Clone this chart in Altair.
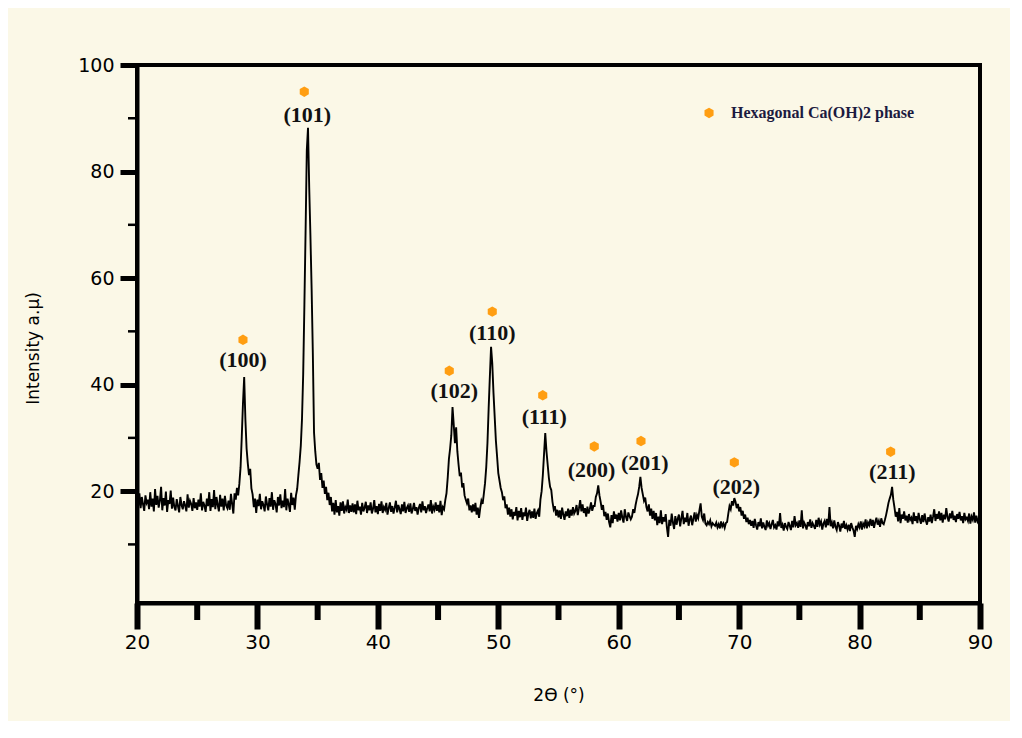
import altair as alt
import pandas as pd

# ---------------- data ----------------
x_start = 20.0
x_step = 0.1
intensity = [
    18.5, 17.2, 19.6, 16.8, 18.9, 17.5, 16.3, 19.2, 17.8, 18.4,  # 20
    16.6, 19.8, 17.1, 18.6, 16.2, 20.4, 17.4, 19.1, 16.9, 18.2,  # 21
    20.8, 16.4, 18.7, 17.3, 19.9, 16.1, 18.3, 17.6, 20.1, 16.7,  # 22
    18.8, 17.0, 16.4, 18.5, 17.2, 16.0, 18.9, 17.4, 16.6, 18.1,  # 23
    17.3, 16.2, 19.4, 16.9, 18.2, 17.6, 16.3, 18.7, 16.8, 17.9,  # 24
    16.5, 18.4, 17.1, 19.6, 16.4, 18.0, 17.3, 16.1, 18.6, 17.2,  # 25
    19.8, 16.3, 18.5, 17.0, 20.2, 16.6, 18.9, 17.4, 16.2, 19.3,  # 26
    17.1, 18.6, 16.4, 19.1, 17.3, 16.8, 18.2, 16.5, 19.5, 17.6,  # 27
    15.8, 19.6, 18.4, 20.6, 19.2, 21.4, 24.5, 30.2, 36.5, 41.4,  # 28
    33.5, 28.0, 25.2, 23.0, 24.2, 20.5, 19.4, 17.0, 18.6, 15.9,  # 29
    18.4, 17.2, 19.5, 16.6, 18.1, 17.4, 16.2, 19.0, 17.5, 16.4,  # 30
    18.7, 17.1, 19.8, 16.5, 18.3, 17.6, 16.0, 18.9, 17.3, 19.4,  # 31
    16.8, 18.2, 17.0, 20.4, 16.4, 18.6, 17.5, 16.1, 19.7, 17.4,  # 32
    18.8, 16.5, 19.2, 20.4, 23.0, 25.5, 28.5, 33.5, 42.0, 55.0,  # 33
    69.0, 84.0, 88.2, 77.0, 68.0, 58.0, 46.0, 31.0, 27.5, 25.0,  # 34
    24.2, 25.3, 22.1, 23.4, 20.6, 22.0, 19.5, 20.8, 18.3, 19.7,  # 35
    17.4, 18.9, 16.2, 17.8, 15.6, 18.3, 16.0, 17.2, 15.4, 17.9,  # 36
    16.3, 18.1, 15.8, 17.0, 16.5, 18.4, 15.9, 17.3, 16.1, 17.7,  # 37
    16.0, 17.5, 15.7, 18.2, 16.4, 17.1, 15.6, 17.8, 16.2, 16.9,  # 38
    18.0, 15.9, 17.3, 16.4, 17.9, 15.8, 16.7, 18.3, 16.0, 17.2,  # 39
    15.7, 17.6, 16.3, 18.1, 15.9, 17.0, 16.5, 17.8, 15.6, 16.8,  # 40
    17.9, 16.1, 17.2, 15.8, 16.9, 18.2, 16.0, 17.4, 16.6, 15.7,  # 41
    17.5, 16.2, 18.0, 15.9, 16.8, 17.3, 16.1, 17.7, 15.8, 16.6,  # 42
    17.8, 16.3, 17.0, 15.6, 16.9, 17.6, 16.0, 18.1, 16.4, 17.2,  # 43
    15.9, 16.8, 17.5, 16.2, 18.3, 15.8, 17.1, 16.5, 17.9, 16.3,  # 44
    17.4, 16.0, 18.2, 15.5, 17.0, 16.6, 18.3, 19.6, 22.5, 26.0,  # 45
    28.0, 30.5, 35.8, 32.5, 29.0, 32.0, 27.5, 25.0, 22.8, 23.5,  # 46
    20.7, 21.5, 19.2, 18.4, 17.7, 18.6, 16.4, 17.3, 16.0, 17.5,  # 47
    16.2, 17.8, 15.6, 16.9, 15.0, 16.8, 18.2, 17.6, 19.5, 21.5,  # 48
    24.5, 29.0, 35.5, 41.5, 47.1, 44.0, 38.5, 34.0, 29.5, 26.5,  # 49
    23.4, 22.0, 20.6, 19.8, 18.3, 19.0, 16.8, 17.5, 15.6, 16.9,  # 50
    15.2, 16.6, 14.7, 16.1, 15.4, 17.0, 14.5, 16.3, 15.1, 16.8,  # 51
    14.6, 16.0, 15.3, 16.9, 14.4, 15.8, 16.5, 14.9, 16.2, 15.0,  # 52
    16.7, 14.8, 15.9, 16.4, 15.2, 18.4, 20.0, 23.0, 27.0, 30.9,  # 53
    27.5, 25.0, 22.5, 20.8, 20.2, 18.0, 16.6, 17.2, 15.4, 16.5,  # 54
    15.1, 16.4, 14.8, 16.9, 15.6, 14.6, 16.2, 15.3, 16.7, 15.0,  # 55
    16.5, 15.4, 17.0, 15.8, 16.3, 17.4, 15.5, 16.8, 18.3, 16.2,  # 56
    17.5, 15.9, 16.8, 15.2, 17.1, 15.8, 16.6, 17.9, 16.3, 17.2,  # 57
    17.2, 18.9, 19.6, 21.1, 19.2, 18.0, 16.5, 17.4, 15.3, 16.1,  # 58
    14.6, 15.8, 14.2, 13.2, 15.5, 14.0, 16.2, 14.8, 15.6, 14.3,  # 59
    15.9, 14.5, 16.4, 15.0, 14.1, 16.6, 15.2, 14.4, 16.0, 15.3,  # 60
    14.7, 15.2, 16.6, 15.9, 17.4, 18.5, 19.4, 20.8, 22.7, 20.6,  # 61
    19.4, 18.2, 18.8, 17.0, 16.2, 17.5, 15.4, 16.7, 14.8, 16.3,  # 62
    14.5, 15.9, 13.6, 15.2, 14.0, 16.4, 13.8, 15.1, 14.3, 15.7,  # 63
    13.2, 11.4, 14.6, 13.5, 15.8, 14.1, 12.9, 15.3, 13.7, 14.8,  # 64
    15.6, 13.4, 14.9, 16.3, 13.8, 15.0, 14.2, 15.9, 13.5, 14.7,  # 65
    15.4, 13.6, 14.8, 16.0, 14.3, 15.5, 14.9, 16.4, 17.7, 15.2,  # 66
    14.6, 15.8, 13.9, 13.6, 14.2, 13.8, 14.5, 13.4, 14.0, 13.7,  # 67
    13.5, 14.1, 13.2, 13.8, 13.0, 14.3, 13.4, 13.9, 13.1, 14.0,  # 68
    14.2, 15.8, 17.2, 16.6, 18.1, 17.3, 18.7, 18.0, 16.8, 17.6,  # 69
    16.2, 17.0, 15.4, 16.3, 14.8, 15.6, 14.2, 15.0, 13.8, 14.6,  # 70
    13.5, 14.4, 13.1, 14.8, 13.6, 12.8, 14.2, 13.4, 14.9, 13.0,  # 71
    14.1, 13.3, 12.7, 14.5, 13.5, 14.0, 12.9, 13.8, 14.6, 13.2,  # 72
    13.6, 12.8, 14.3, 13.4, 15.9, 13.1, 13.7, 12.6, 14.0, 13.3,  # 73
    12.9, 14.2, 13.5, 12.7, 14.4, 13.2, 15.3, 13.6, 14.0, 13.1,  # 74
    14.5, 13.3, 16.4, 13.0, 14.1, 13.6, 12.8, 14.2, 13.4, 14.7,  # 75
    13.1, 14.0, 13.5, 12.9, 14.6, 13.3, 15.0, 13.7, 14.3, 12.8,  # 76
    13.9, 14.4, 13.2, 14.8, 13.6, 17.0, 13.4, 14.1, 13.0, 14.5,  # 77
    13.3, 12.7, 14.2, 13.5, 12.4, 13.9, 13.1, 14.4, 12.9, 13.6,  # 78
    12.8, 13.7, 12.5, 14.0, 13.2, 12.6, 11.4, 13.5, 12.9, 13.8,  # 79
    13.2, 14.3, 12.8, 13.9, 13.4, 14.7, 13.0, 14.1, 13.6, 14.8,  # 80
    13.5, 14.6, 13.1, 14.2, 15.0, 13.7, 14.4, 13.3, 14.9, 14.0,  # 81
    13.8, 14.6, 15.5, 16.6, 17.8, 18.6, 19.3, 20.8, 18.4, 16.9,  # 82
    15.2, 16.1, 14.3, 16.8, 14.0, 15.6, 14.8, 16.2, 14.5, 15.4,  # 83
    14.1, 15.7, 14.6, 15.0, 13.8, 16.0, 14.4, 15.3, 14.0, 15.9,  # 84
    14.7, 13.9, 15.5, 14.2, 15.8, 14.5, 13.7, 15.1, 14.3, 15.6,  # 85
    14.0, 15.2, 16.6, 14.4, 15.7, 14.8, 16.2, 14.5, 15.9, 14.1,  # 86
    15.6, 14.7, 16.8, 15.1, 14.3, 15.8, 14.9, 16.3, 14.6, 15.4,  # 87
    14.2, 15.7, 14.8, 16.1, 14.5, 15.3, 14.0, 15.9, 14.7, 15.0,  # 88
    14.4, 15.8, 13.9, 15.2, 14.6, 16.0, 14.1, 15.4, 14.3, 14.8,  # 89
    14.5,                                                        # 90
]
two_theta = [round(x_start + i * x_step, 1) for i in range(len(intensity))]

peak_labels = ["(100)", "(101)", "(102)", "(110)", "(111)", "(200)", "(201)", "(202)", "(211)"]
label_x = [28.80, 34.14, 46.34, 49.50, 53.82, 57.74, 62.16, 69.77, 82.72]
label_y = [44.6, 90.6, 38.8, 49.6, 34.0, 24.0, 25.2, 20.7, 23.5]
marker_x = [28.80, 33.89, 45.93, 49.50, 53.69, 57.97, 61.85, 69.60, 82.58]
marker_y = [48.4, 95.0, 42.6, 53.7, 38.0, 28.4, 29.4, 25.4, 27.4]

legend_text = ["Hexagonal Ca(OH)2 phase"]
legend_marker_x = [67.50]
legend_text_x = [69.33]
legend_y = [91.0]

x_major = [20, 30, 40, 50, 60, 70, 80, 90]
x_minor = [25, 35, 45, 55, 65, 75, 85]
y_major = [20, 40, 60, 80, 100]
y_minor = [10, 30, 50, 70, 90]

# ---------------- chart ----------------
W, H = 843, 538
BG = "#fbf8e7"
ORANGE = "#ff9e12"
HEX = "M0,-1L0.866,-0.5L0.866,0.5L0,1L-0.866,0.5L-0.866,-0.5Z"

xs = alt.Scale(domain=[20, 90], nice=False, zero=False)
ys = alt.Scale(domain=[-1, 100], nice=False, zero=False)

df = pd.DataFrame({"t": two_theta, "i": intensity})
line = alt.Chart(df).mark_line(color="black", strokeWidth=1.9).encode(
    x=alt.X("t:Q", scale=xs, axis=alt.Axis(
        values=x_major, title="2Ө (°)", grid=False, labelFlush=False,
        tickSize=26, tickWidth=6, tickColor="black",
        domainWidth=4, domainColor="black",
        labelFont="DejaVu Sans", labelFontSize=20, labelColor="black", labelPadding=3,
        titleFont="DejaVu Sans", titleFontSize=17, titleFontWeight="normal", titleColor="black",
        titleY=92, titleBaseline="middle")),
    y=alt.Y("i:Q", scale=ys, axis=alt.Axis(
        values=y_major, title="Intensity a.μ)", grid=False, labelFlush=False,
        tickSize=17, tickWidth=5, tickColor="black",
        domainWidth=4, domainColor="black",
        labelFont="DejaVu Sans", labelFontSize=19, labelColor="black", labelPadding=6,
        titleFont="DejaVu Sans", titleFontSize=17, titleFontWeight="normal", titleColor="black",
        titleX=-104, titleY=283, titleBaseline="middle", titleAlign="center")),
)

ymin_df = pd.DataFrame({"v": y_minor})
ymin = alt.Chart(ymin_df).mark_rule(color="black", strokeWidth=2.5).encode(
    y=alt.Y("v:Q", scale=ys), x=alt.value(-9), x2=alt.value(0))

xmin_df = pd.DataFrame({"v": x_minor})
xmin = alt.Chart(xmin_df).mark_rule(color="black", strokeWidth=6).encode(
    x=alt.X("v:Q", scale=xs), y=alt.value(H), y2=alt.value(H + 17))

mk_df = pd.DataFrame({"x": marker_x + legend_marker_x, "y": marker_y + legend_y})
markers = alt.Chart(mk_df).mark_point(shape=HEX, filled=True, color=ORANGE, opacity=1, size=110, strokeWidth=0).encode(
    x=alt.X("x:Q", scale=xs), y=alt.Y("y:Q", scale=ys))

lb_df = pd.DataFrame({"x": label_x, "y": label_y, "t": peak_labels})
labels = alt.Chart(lb_df).mark_text(font="Liberation Serif", fontWeight="bold", fontSize=22,
                                    color="#111111", baseline="middle", align="center").encode(
    x=alt.X("x:Q", scale=xs), y=alt.Y("y:Q", scale=ys), text="t:N")

lg_df = pd.DataFrame({"x": legend_text_x, "y": legend_y, "t": legend_text})
legend = alt.Chart(lg_df).mark_text(font="Liberation Serif", fontWeight="bold", fontSize=16,
                                    color="#1b1a40", baseline="middle", align="left").encode(
    x=alt.X("x:Q", scale=xs), y=alt.Y("y:Q", scale=ys), text="t:N")

chart = alt.layer(line, ymin, xmin, markers, labels, legend).properties(
    width=W, height=H,
    padding={"left": 129, "top": 57, "right": 30, "bottom": 118},
    autosize=alt.AutoSizeParams(type="none"),
).configure(background=BG).configure_view(stroke="black", strokeWidth=4)

chart.save("out.html", embed_options={"renderer": "svg", "actions": False})
